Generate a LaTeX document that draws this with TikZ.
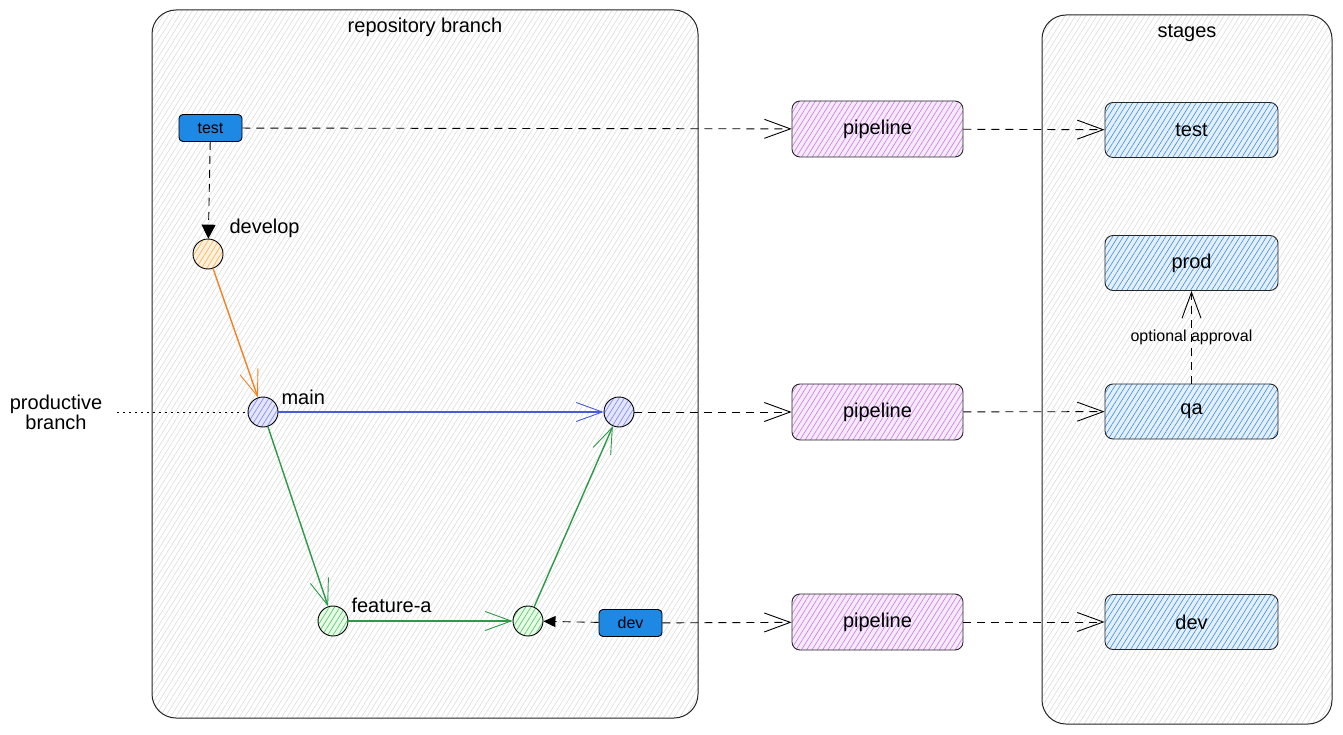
\documentclass[tikz,border=0pt]{standalone}
\usepackage{fontspec}
\setmainfont{Liberation Sans}
\usetikzlibrary{arrows.meta}
\usetikzlibrary{patterns.meta}
\usetikzlibrary{calc}

\definecolor{tagblue}{HTML}{1E88E5}
\definecolor{stagehatch}{HTML}{3F8FDB}
\definecolor{stagefill}{HTML}{E3EFFB}
\definecolor{pipehatch}{HTML}{C77CE0}
\definecolor{pipefill}{HTML}{F6E9FB}
\definecolor{orangeline}{HTML}{F58220}
\definecolor{orangehatch}{HTML}{F7B955}
\definecolor{blueline}{HTML}{4A5BD6}
\definecolor{bluehatch}{HTML}{7F92E6}
\definecolor{greenline}{HTML}{2E9A48}
\definecolor{greenhatch}{HTML}{66C27A}

\newcommand{\fontpx}[1]{\fontsize{#1}{#1}\selectfont}

\tikzset{
    hatched/.style n args={3}{preaction={fill=#2}, pattern={Lines[angle=58,distance=4.5pt,line width=#3]}, pattern color=#1},
    group/.style={draw=black!85, line width=1pt, rounded corners=24pt, hatched={black!16}{white}{0.45pt}, inner sep=0pt},
    tag/.style={draw=black, line width=0.9pt, fill=tagblue, rounded corners=4pt, minimum width=63pt, minimum height=27pt, inner sep=0pt, font=\fontpx{16}},
    commit/.style={circle, draw=black, line width=0.9pt, minimum size=30pt, inner sep=0pt},
    pipe/.style={draw=black!85, line width=0.9pt, rounded corners=8pt, hatched={pipehatch}{pipefill}{0.6pt}, minimum width=171pt, minimum height=56pt, font=\fontpx{20}},
    stagebox/.style={draw=black!85, line width=0.9pt, rounded corners=8pt, hatched={stagehatch}{stagefill}{0.6pt}, minimum width=173pt, minimum height=55pt, font=\fontpx{20}},
    branchlabel/.style={font=\fontpx{20}, anchor=west},
    branchline/.style={line width=1.4pt, openarrow},
    openarrow/.style={-{Straight Barb[length=26pt, width=19pt, line width=0.9pt]}},
    flow/.style={draw=black, line width=0.9pt, dash pattern=on 8pt off 6pt, openarrow}
}

\begin{document}
\begin{tikzpicture}[x=1pt, y=-1pt]
    \useasboundingbox (0,0) rectangle (1343,735);

    % Draw groups
    \node[group, minimum width=546pt, minimum height=708pt] (repo) at (425,364) {};
    \node[font=\fontpx{20}] (repotitle) at (425,27) {repository branch};
    \node[group, minimum width=290pt, minimum height=709pt] (stages) at (1187,369.5) {};
    \node[font=\fontpx{20}] (stagestitle) at (1187,33) {stages};

    % Draw branches
    \node[tag] (testtag) at (210.5,128) {test};
    \node[commit, hatched={orangehatch}{orange!12}{0.7pt}] (develop) at (208,254) {};
    \node[commit, hatched={bluehatch}{blue!10}{0.7pt}] (main) at (263,412) {};
    \node[commit, hatched={bluehatch}{blue!10}{0.7pt}] (mainmerge) at (619,412) {};
    \node[commit, hatched={greenhatch}{green!10}{0.7pt}] (featurea) at (333,621) {};
    \node[commit, hatched={greenhatch}{green!10}{0.7pt}] (merge) at (528,621) {};
    \node[tag] (devtag) at (630.5,623) {dev};

    \node[branchlabel] (developlabel) at (226,228) {develop};
    \node[branchlabel] (mainlabel) at (278,397) {main};
    \node[branchlabel] (featurelabel) at (348,605) {feature-a};

    \node[font=\fontpx{20}, align=center] (productive) at (56,412) {productive\\branch};
    \coordinate (prodstart) at (117,412);

    % Draw pipelines and stages
    \node[pipe] (pipetest) at (877.5,129) {pipeline};
    \node[pipe] (pipeqa) at (877.5,412) {pipeline};
    \node[pipe] (pipedev) at (877.5,622) {pipeline};

    \node[stagebox] (stagetest) at (1191.5,130) {test};
    \node[stagebox] (stageprod) at (1191.5,263) {prod};
    \node[stagebox] (stageqa) at (1191.5,411.5) {qa};
    \node[stagebox] (stagedev) at (1191.5,622) {dev};

    % Draw connections
    \draw[black, line width=0.9pt, dash pattern=on 8pt off 6pt, -{Triangle[length=14pt, width=14pt]}] (testtag) -- (develop);
    \draw[orangeline, branchline] (develop) -- (main);
    \draw[blueline, branchline] (main) -- (mainmerge);
    \draw[greenline, branchline] (main) -- (featurea);
    \draw[greenline, branchline] (featurea) -- (merge);
    \draw[greenline, branchline] (merge) -- (mainmerge);
    \draw[black, line width=0.9pt, dash pattern=on 8pt off 6pt, -{Triangle[length=12pt, width=11pt]}] (devtag) -- (merge);
    \draw[black, line width=0.9pt, dash pattern=on 2pt off 4pt] (prodstart) -- (main);

    \draw[flow] (testtag) -- (pipetest);
    \draw[flow] (mainmerge) -- (pipeqa);
    \draw[flow] (devtag) -- (pipedev);
    \draw[flow] (pipetest) -- (stagetest);
    \draw[flow] (pipeqa) -- (stageqa);
    \draw[flow] (pipedev) -- (stagedev);
    \draw[flow] (stageqa) -- (stageprod) node[midway, font=\fontpx{16}] {optional approval};
\end{tikzpicture}
\end{document}
